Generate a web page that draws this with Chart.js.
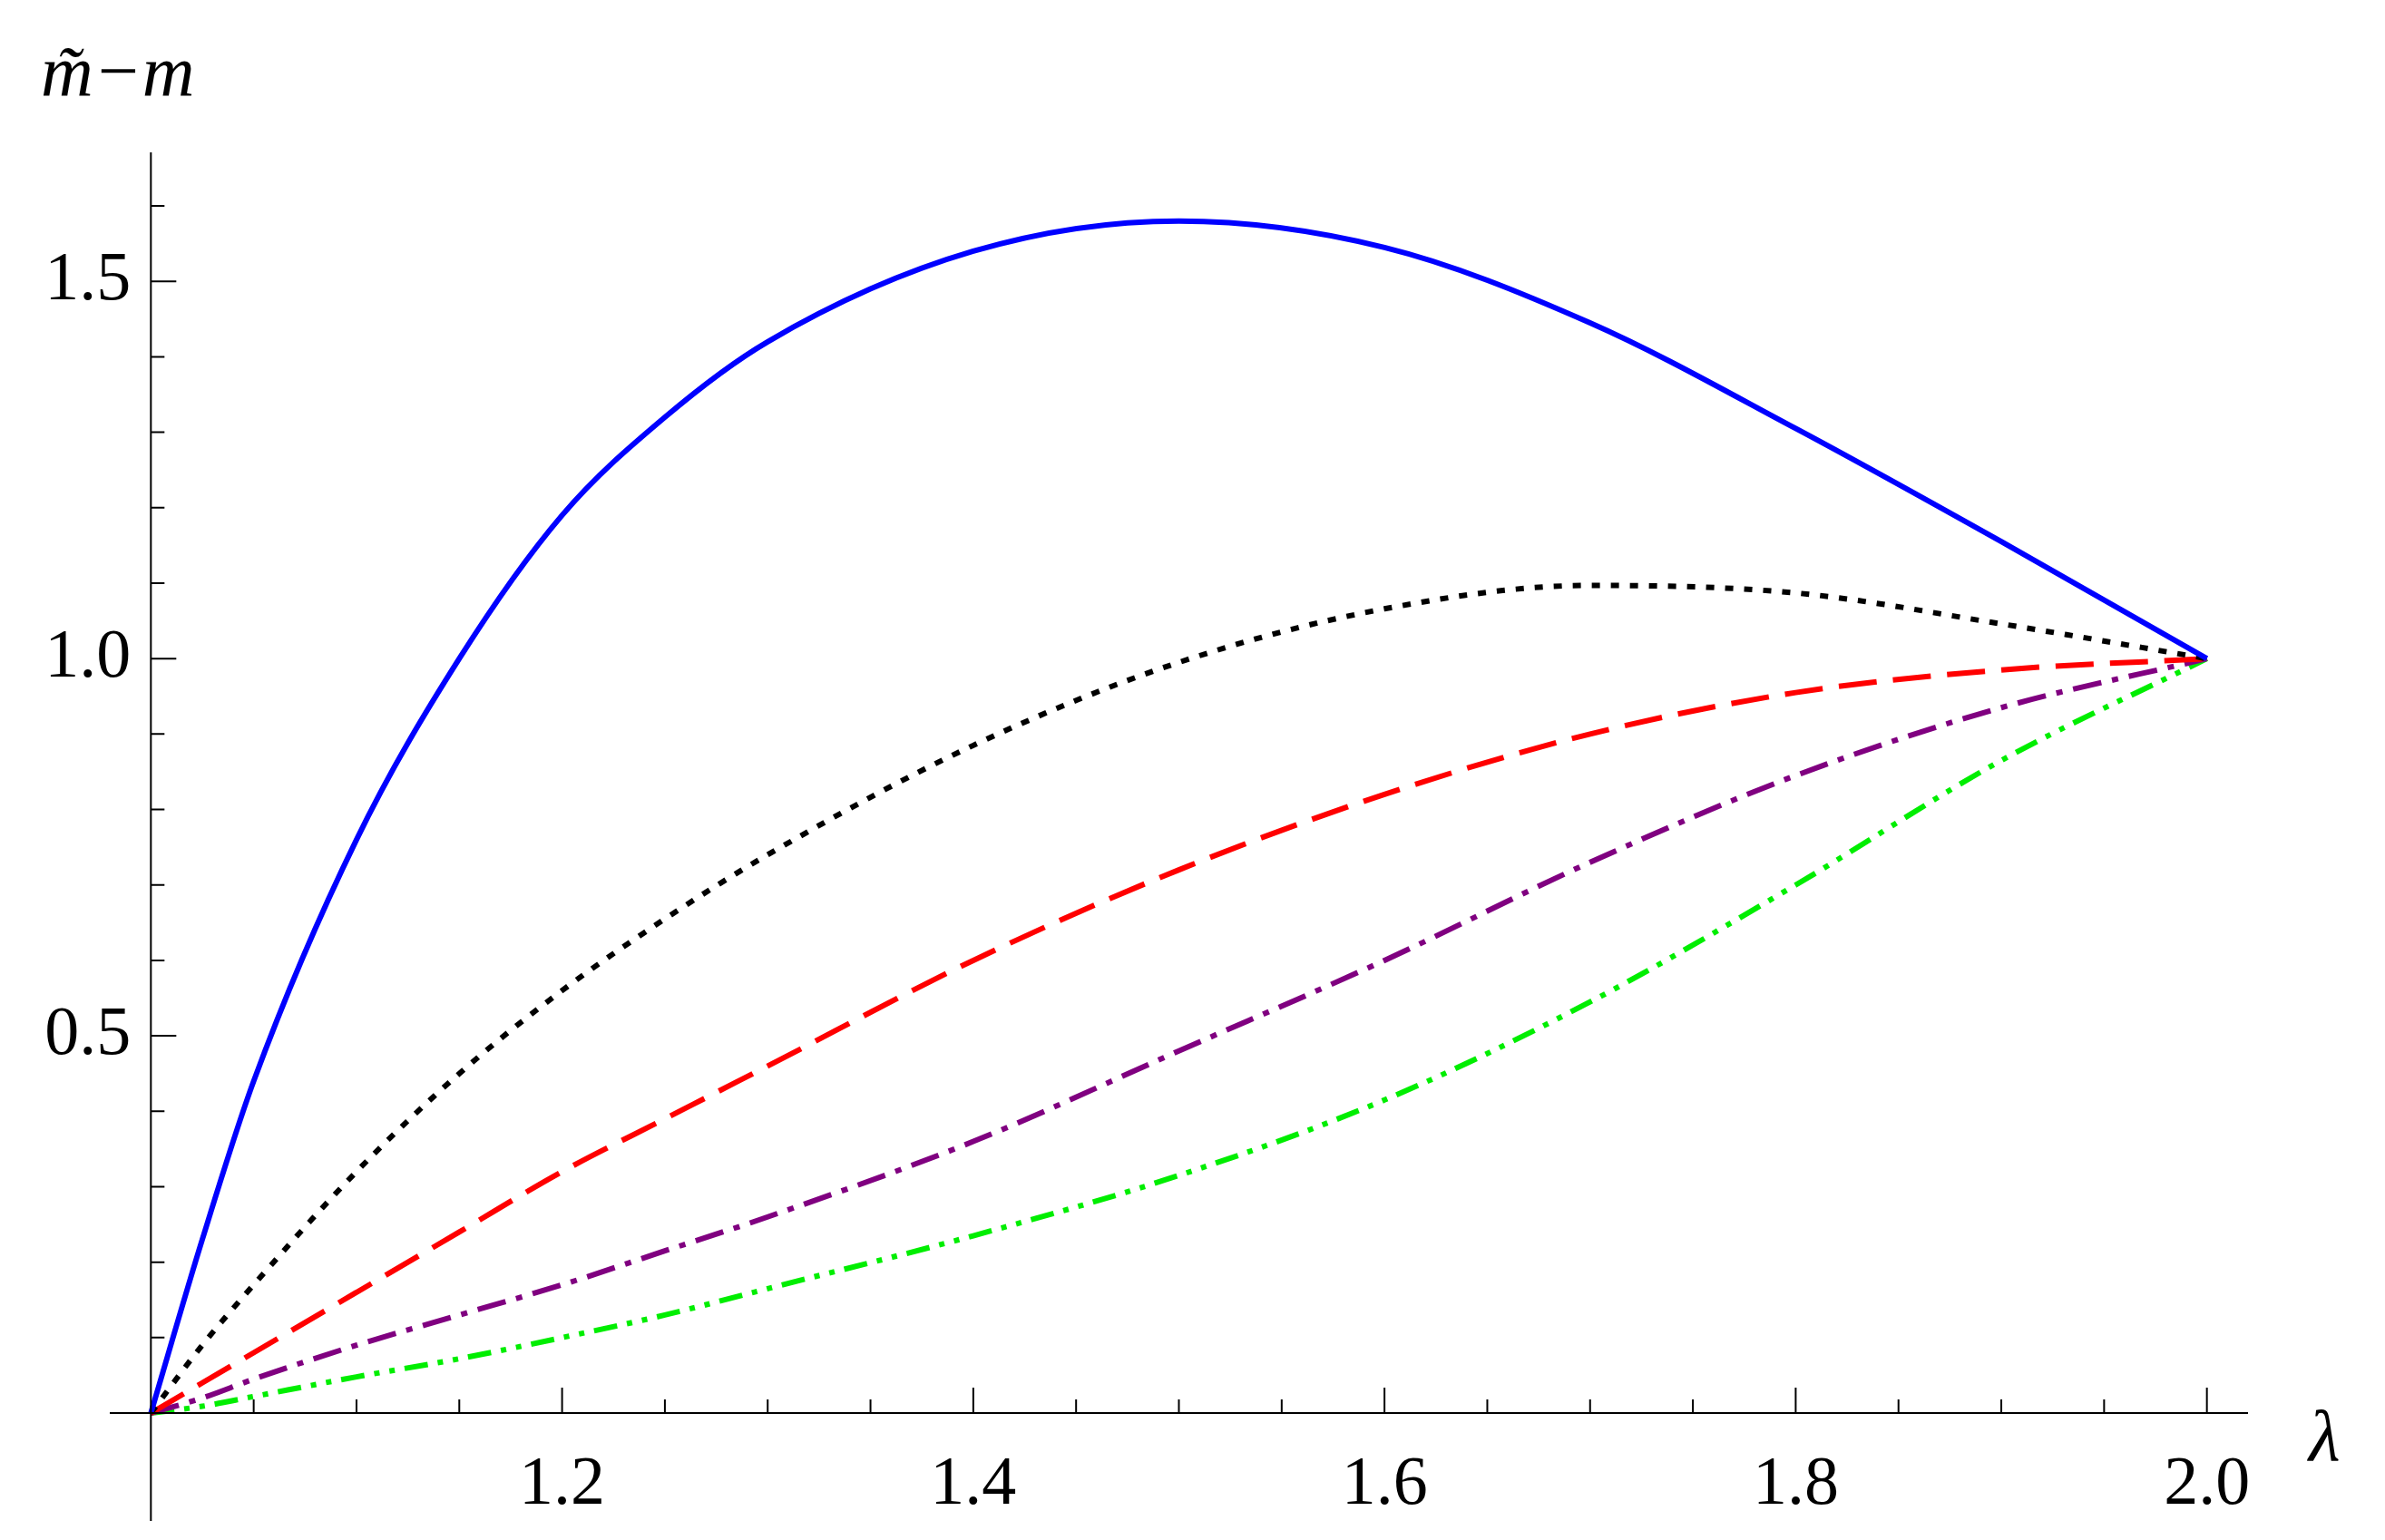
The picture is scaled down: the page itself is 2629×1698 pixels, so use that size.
<!DOCTYPE html>
<html><head><meta charset="utf-8">
<script src="https://cdn.jsdelivr.net/npm/chart.js@4/dist/chart.umd.min.js"></script>
<style>html,body{margin:0;background:#fff}#w{width:2629px;height:1698px}</style>
</head><body><div id="w"><canvas id="c"></canvas></div>
<script>
const lambdas = [1.0,1.025,1.05,1.1,1.15,1.2,1.25,1.3,1.4,1.5,1.6,1.7,1.8,1.9,2.0];
const blue   = [0,0.23,0.44,0.76,1.00,1.19,1.32,1.42,1.54,1.58,1.545,1.445,1.305,1.155,1.0];
const black  = [0,0.09,0.17,0.32,0.45,0.56,0.655,0.74,0.885,0.995,1.066,1.097,1.087,1.046,1.0];
const red    = [0,0.04,0.08,0.16,0.24,0.32,0.39,0.46,0.60,0.72,0.82,0.90,0.955,0.985,1.0];
const purple = [0,0.02,0.045,0.09,0.13,0.17,0.215,0.26,0.36,0.48,0.60,0.73,0.845,0.935,1.0];
const green  = [0,0.009,0.022,0.048,0.072,0.10,0.13,0.165,0.235,0.315,0.415,0.545,0.70,0.865,1.0];
const xTickLabels = [1.2,1.4,1.6,1.8,2.0];
const yTickLabels = [0.5,1.0,1.5];

const pts = a => lambdas.map((x,i)=>({x, y:a[i]}));
const ds = (d,c,dash) => ({data:pts(d),borderColor:c,borderWidth:6,borderDash:dash,pointRadius:0,cubicInterpolationMode:'monotone',fill:false});

const ticksPlugin = {id:'tk', afterDraw(ch){
  const c=ch.ctx, x=ch.scales.x, y=ch.scales.y;
  const x0=x.getPixelForValue(1.0), y0=y.getPixelForValue(0);
  c.save(); c.strokeStyle='#000'; c.lineWidth=2;
  c.beginPath();
  c.moveTo(ch.chartArea.left,y0); c.lineTo(ch.chartArea.right,y0);
  c.moveTo(x0,ch.chartArea.top); c.lineTo(x0,ch.chartArea.bottom);
  for(let i=1;i<=20;i++){const v=1+i*0.05,p=x.getPixelForValue(v),L=(i%4===0)?28:15; c.moveTo(p,y0); c.lineTo(p,y0-L);}
  for(let i=1;i<=16;i++){const v=i*0.1,p=y.getPixelForValue(v),L=(i%5===0)?28:15; c.moveTo(x0,p); c.lineTo(x0+L,p);}
  c.stroke();
  c.fillStyle='#000'; c.font='76px "Liberation Serif"';
  c.textAlign='center'; c.textBaseline='top';
  xTickLabels.forEach(v=>c.fillText(v.toFixed(1),x.getPixelForValue(v),y0+42));
  c.textAlign='right'; c.textBaseline='middle';
  yTickLabels.forEach(v=>c.fillText(v.toFixed(1),x0-22,y.getPixelForValue(v)));
  c.font='italic 80px "Liberation Serif"'; c.textAlign='left'; c.textBaseline='alphabetic';
  c.fillText('m\u0303\u2212m',45,105);
  c.fillText('\u03bb',2545,1610);
  c.restore();
}};

new Chart(document.getElementById('c'),{
  type:'line',
  data:{datasets:[ds(blue,'#0000ff',[]),ds(black,'#000000',[9,12]),ds(red,'#ff0000',[42,18]),ds(purple,'#800080',[32,12,7,12]),ds(green,'#00ee00',[26,11,6,11,6,11])]},
  options:{responsive:true,maintainAspectRatio:false,animation:false,
    layout:{padding:{left:121,right:151,top:168,bottom:21}},
    plugins:{legend:{display:false},tooltip:{enabled:false}},
    scales:{
      x:{type:'linear',min:0.98,max:2.02,display:false},
      y:{type:'linear',min:-0.143,max:1.671,display:false}
    }},
  plugins:[ticksPlugin]
});
</script></body></html>
